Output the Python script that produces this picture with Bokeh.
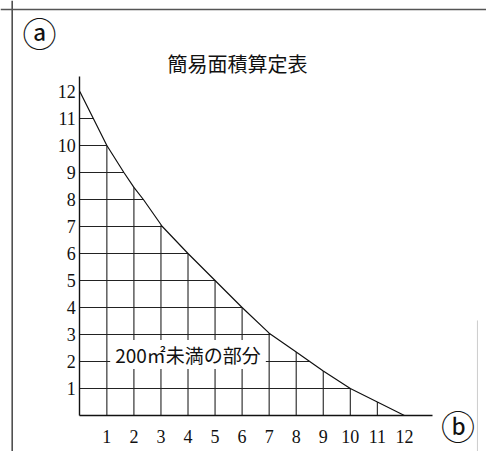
from bokeh.plotting import figure
from bokeh.models import Range1d, LinearAxis, FixedTicker, Label, Span
from bokeh.embed import file_html
from bokeh.resources import INLINE

# ---- data ----
title_text = "簡易面積算定表"
region_label = "200㎡未満の部分"
corner_a = "ⓐ"
corner_b = "ⓑ"

x_ticks = [1, 2, 3, 4, 5, 6, 7, 8, 9, 10, 11, 12]
y_ticks = [1, 2, 3, 4, 5, 6, 7, 8, 9, 10, 11, 12]

# boundary curve
curve_x = [0, 0.5, 1, 1.63, 2, 2.35, 3.05, 4, 5, 6, 7, 8, 8.5, 9, 10, 11, 12]
curve_y = [12, 11, 10, 9, 8.45, 8, 7, 6, 5, 4, 3.05, 2.35, 2, 1.65, 1, 0.5, 0]

# vertical grid lines: x position and height reached under the curve
grid_x = [1, 2, 3, 4, 5, 6, 7, 8, 9, 10, 11]
grid_x_top = [10, 8.45, 7.05, 6, 5, 4, 3.05, 2.35, 1.65, 1, 0.5]
# horizontal grid lines: y position and extent reached under the curve
grid_y = [1, 2, 3, 4, 5, 6, 7, 8, 9, 10, 11]
grid_y_end = [10, 8.5, 7.05, 6, 5, 4, 3.05, 2.35, 1.63, 1, 0.5]

# ---- figure ----
p = figure(width=486, height=451,
           x_range=Range1d(-2.932, 15.035), y_range=Range1d(-1.333, 15.370),
           output_backend="svg", toolbar_location=None,
           x_axis_type=None, y_axis_type=None, min_border=0)
p.outline_line_color = None
p.background_fill_color = "white"
p.border_fill_color = "white"

tick_font = "Liberation Serif"
xaxis = LinearAxis(fixed_location=0, bounds=(0, 13.05),
                   ticker=FixedTicker(ticks=x_ticks),
                   major_tick_out=0, major_tick_in=0,
                   minor_tick_out=0, minor_tick_in=0,
                   major_label_standoff=14,
                   major_label_text_font=tick_font,
                   major_label_text_font_size="18px",
                   major_label_text_color="#111111",
                   axis_line_color="#111111", axis_line_width=1.4)
p.add_layout(xaxis, "below")

yaxis = LinearAxis(fixed_location=0, bounds=(0, 12.55),
                   ticker=FixedTicker(ticks=y_ticks),
                   major_tick_out=0, major_tick_in=0,
                   minor_tick_out=0, minor_tick_in=0,
                   major_label_standoff=4,
                   major_label_text_font=tick_font,
                   major_label_text_font_size="18px",
                   major_label_text_color="#111111",
                   axis_line_color="#111111", axis_line_width=1.4)
p.add_layout(yaxis, "left")

# grid under the curve
p.segment(x0=grid_x, y0=[0] * len(grid_x), x1=grid_x, y1=grid_x_top,
          line_color="#222222", line_width=1.1)
p.segment(x0=[0] * len(grid_y), y0=grid_y, x1=grid_y_end, y1=grid_y,
          line_color="#222222", line_width=1.1)

# boundary curve
p.line(curve_x, curve_y, line_color="#111111", line_width=1.2)

# region label with white box
p.add_layout(Label(x=4.0, y=2.26, text=region_label,
                   text_align="center", text_baseline="middle",
                   text_font="Noto Sans CJK JP",
                   text_font_size="19px", text_color="#111111",
                   background_fill_color="white", padding=(5, 1)))

# title
p.add_layout(Label(x=5.83, y=13.04, text=title_text,
                   text_align="center", text_baseline="middle",
                   text_font="Noto Sans CJK JP", text_font_size="20px",
                   text_color="#111111"))

# corner marks
p.add_layout(Label(x=-1.49, y=14.20, text=corner_a,
                   text_align="center", text_baseline="middle",
                   text_font="Noto Sans CJK JP", text_font_size="34px",
                   text_color="#111111"))
p.add_layout(Label(x=13.98, y=-0.36, text=corner_b,
                   text_align="center", text_baseline="middle",
                   text_font="Noto Sans CJK JP", text_font_size="34px",
                   text_color="#111111"))

# frame borders
p.add_layout(Span(location=-2.5, dimension="height",
                  line_color="#444444", line_width=1.5))
p.add_layout(Span(location=15.04, dimension="width",
                  line_color="#555555", line_width=1.5))
p.segment(x0=[14.70], y0=[3.52], x1=[14.70], y1=[-1.4],
          line_color="#cccccc", line_width=1)

open("out.html", "w").write(file_html(p, INLINE))
